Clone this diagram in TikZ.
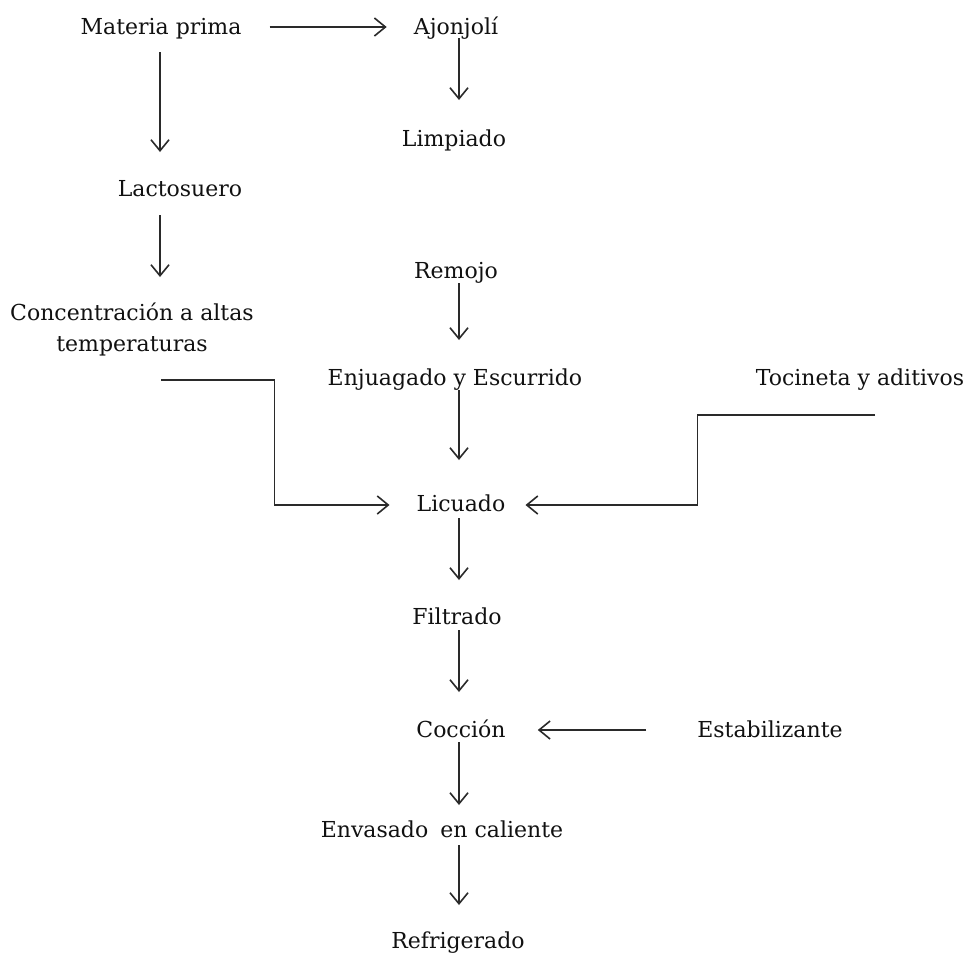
\documentclass[tikz,border=0pt]{standalone}
\usepackage{fontspec}
\setmainfont{DejaVu Serif}
\usetikzlibrary{arrows.meta,calc}
\definecolor{txtc}{HTML}{111111}
\definecolor{linec}{HTML}{2A2A2A}
\begin{document}
\begin{tikzpicture}[x=1pt,y=-1pt,
  lbl/.style={anchor=base, inner sep=0pt, text=txtc, font=\fontsize{22}{31}\selectfont},
  arr/.style={draw=linec, line width=1.6pt, -{Straight Barb[length=11pt,width=18pt]}}]
\useasboundingbox[fill=white] (0,0) rectangle (974,956);
% nodes
\node[lbl] (mp)  at (161,34)  {Materia prima};
\node[lbl] (aj)  at (456,34)  {Ajonjolí};
\node[lbl] (lim) at (454,146) {Limpiado};
\node[lbl] (lac) at (180,196) {Lactosuero};
\node[lbl, align=center, anchor=north] (conc) at (132,303) {Concentración a altas\\temperaturas};
\node[lbl] (rem) at (456,278) {Remojo};
\node[lbl] (enj) at (455,385) {Enjuagado y Escurrido};
\node[lbl] (toc) at (860,385) {Tocineta y aditivos};
\node[lbl] (lic) at (461,511) {Licuado};
\node[lbl] (fil) at (457,624) {Filtrado};
\node[lbl] (coc) at (461,737) {Cocción};
\node[lbl] (est) at (770,737) {Estabilizante};
\node[lbl] (env) at (442,837) {Envasado\hspace{0.55em}en caliente};
\node[lbl] (ref) at (458,948) {Refrigerado};
% helper coordinates
\coordinate (colx) at (459,0);
\coordinate (lcol) at (160,0);
\coordinate (cfree) at (161,380);
% connectors
\draw[arr] ($(mp.base -| lcol)+(0,18)$) -- ($(lac.base -| lcol)+(0,-44)$);
\draw[arr] ($(mp.base east)+(28,-7)$) -- ($(aj.base west)+(-27,-7)$);
\draw[arr] ($(aj.base -| colx)+(0,4)$) -- ($(lim.base -| colx)+(0,-46)$);
\draw[arr] ($(lac.base -| lcol)+(0,19)$) -- ($(conc.north -| lcol)+(0,-26)$);
\draw[arr] ($(rem.base -| colx)+(0,5)$) -- ($(enj.base -| colx)+(0,-45)$);
\draw[arr] ($(enj.base -| colx)+(0,5)$) -- ($(lic.base -| colx)+(0,-51)$);
\draw[arr] ($(lic.base -| colx)+(0,7)$) -- ($(fil.base -| colx)+(0,-44)$);
\draw[arr] ($(fil.base -| colx)+(0,6)$) -- ($(coc.base -| colx)+(0,-45)$);
\draw[arr] ($(coc.base -| colx)+(0,5)$) -- ($(env.base -| colx)+(0,-32)$);
\draw[arr] ($(env.base -| colx)+(0,8)$) -- ($(ref.base -| colx)+(0,-43)$);
\draw[arr] ($(est.base west)+(-51,-7)$) -- ($(coc.base east)+(32,-7)$);
\draw[arr] (cfree) -| ($(lic.base west)+(-142,-6)$) -- ($(lic.base west)+(-27,-6)$);
\draw[arr] ($(toc.base)+(15,30)$) -| ($(lic.base east)+(192,-6)$) -- ($(lic.base east)+(20,-6)$);
\end{tikzpicture}
\end{document}
